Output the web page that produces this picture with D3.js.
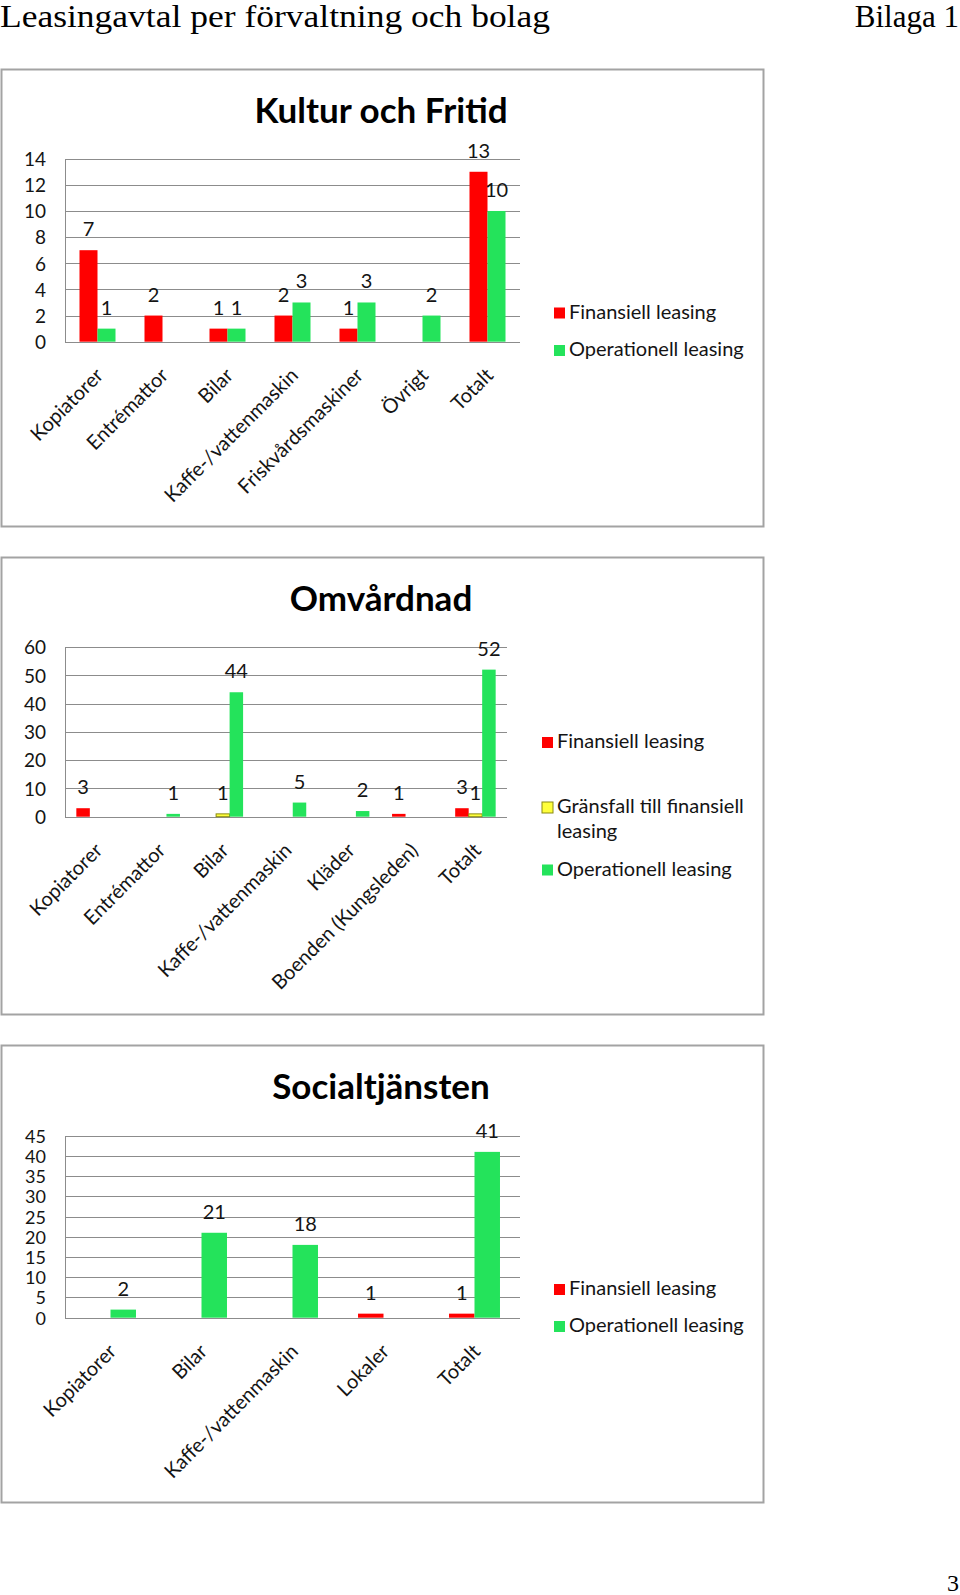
<!DOCTYPE html>
<html><head><meta charset="utf-8">
<script src="https://cdn.jsdelivr.net/npm/d3@7"></script>
<style>
html,body{margin:0;padding:0;background:#fff;}
svg{display:block;}
</style>
</head><body>
<svg id="page" width="960" height="1595"></svg>
<script>
// ---------- DATA ----------
const pageTitle = "Leasingavtal per förvaltning och bolag";
const pageAppendix = "Bilaga 1";
const pageNumber = "3";

const seriesNames2 = ["Finansiell leasing", "Operationell leasing"];
const seriesNames3 = ["Finansiell leasing", "Gränsfall till finansiell leasing", "Operationell leasing"];

const kfTitle = "Kultur och Fritid";
const kfCategories = ["Kopiatorer", "Entrémattor", "Bilar", "Kaffe-/vattenmaskin", "Friskvårdsmaskiner", "Övrigt", "Totalt"];
const kfFinansiell = [7, 2, 1, 2, 1, null, 13];
const kfOperationell = [1, null, 1, 3, 3, 2, 10];
const kfTicks = [0, 2, 4, 6, 8, 10, 12, 14];

const omTitle = "Omvårdnad";
const omCategories = ["Kopiatorer", "Entrémattor", "Bilar", "Kaffe-/vattenmaskin", "Kläder", "Boenden (Kungsleden)", "Totalt"];
const omFinansiell = [3, null, null, null, null, 1, 3];
const omGransfall = [null, null, 1, null, null, null, 1];
const omOperationell = [null, 1, 44, 5, 2, null, 52];
const omTicks = [0, 10, 20, 30, 40, 50, 60];

const stTitle = "Socialtjänsten";
const stCategories = ["Kopiatorer", "Bilar", "Kaffe-/vattenmaskin", "Lokaler", "Totalt"];
const stFinansiell = [null, null, null, 1, 1];
const stOperationell = [2, 21, 18, null, 41];
const stTicks = [0, 5, 10, 15, 20, 25, 30, 35, 40, 45];

// ---------- STYLE ----------
const RED = "#ff0000", GREEN = "#24e35b", YELLOW = "#ffff3c", YELLOW_STROKE = "#8a8a10";
const GRID = "#8c8c8c", TEXT = "#141414", FRAME = "#a3a3a3";
const SANS = "Lato, 'Open Sans', sans-serif";

const svg = d3.select("#page");

// Page header / footer
svg.append("text").attr("x", 0).attr("y", 27)
  .attr("font-family", "'Liberation Serif', serif").attr("font-size", 31).attr("fill", "#000")
  .attr("textLength", 550).attr("lengthAdjust", "spacingAndGlyphs").text(pageTitle);
svg.append("text").attr("x", 959).attr("y", 27).attr("text-anchor", "end")
  .attr("font-family", "'Liberation Serif', serif").attr("font-size", 31).attr("fill", "#000")
  .text(pageAppendix);
svg.append("text").attr("x", 959).attr("y", 1591).attr("text-anchor", "end")
  .attr("font-family", "'Liberation Serif', serif").attr("font-size", 24).attr("fill", "#000")
  .text(pageNumber);

function drawChart(cfg) {
  const g = svg.append("g").attr("transform", `translate(0,${cfg.top})`);
  // frame
  g.append("rect").attr("x", 1.5).attr("y", 0.5).attr("width", 762).attr("height", 457)
    .attr("fill", "#fff").attr("stroke", FRAME).attr("stroke-width", 2);
  // title
  g.append("text").attr("x", 381).attr("y", 54).attr("text-anchor", "middle")
    .attr("font-family", SANS).attr("font-weight", 700).attr("font-size", 35).attr("fill", "#000")
    .text(cfg.title);

  const y = d3.scaleLinear().domain([0, cfg.ticks[cfg.ticks.length - 1]]).range([cfg.zero, cfg.plotTop]);
  const x0 = d3.scaleBand().domain(cfg.categories).range([65, cfg.right])
    .paddingInner(cfg.pad).paddingOuter(cfg.pad / 2);
  const keys = cfg.series.map((s, i) => i);
  const x1 = d3.scaleBand().domain(keys).range([0, x0.bandwidth()]);

  // gridlines
  g.append("g").selectAll("line").data(cfg.ticks).join("line")
    .attr("x1", 65).attr("x2", cfg.right)
    .attr("y1", d => Math.round(y(d)) + 0.5).attr("y2", d => Math.round(y(d)) + 0.5)
    .attr("stroke", GRID).attr("stroke-width", 1);
  // y axis line
  g.append("line").attr("x1", 65.5).attr("x2", 65.5)
    .attr("y1", Math.round(y(cfg.ticks[cfg.ticks.length - 1])) + 0.5).attr("y2", Math.round(cfg.zero) + 0.5)
    .attr("stroke", GRID);
  // y axis via d3.axisLeft (labels only)
  const ya = g.append("g").attr("transform", "translate(46,0)")
    .call(d3.axisLeft(y).tickValues(cfg.ticks).tickSize(0).tickPadding(0).tickFormat(d3.format("d")));
  ya.select(".domain").remove();
  ya.selectAll("text").attr("font-family", SANS).attr("font-size", cfg.tickFont).attr("fill", TEXT).attr("dy", "0.36em");

  // bars
  const groups = g.append("g").selectAll("g").data(cfg.categories).join("g")
    .attr("transform", d => `translate(${x0(d)},0)`);
  cfg.series.forEach((s, si) => {
    groups.each(function (cat, ci) {
      const v = s.values[ci];
      if (v == null) return;
      const gg = d3.select(this);
      gg.append("rect")
        .attr("x", x1(si)).attr("width", x1.bandwidth())
        .attr("y", y(v)).attr("height", cfg.zero - y(v))
        .attr("fill", s.color)
        .attr("stroke", s.stroke || "none").attr("stroke-width", s.stroke ? 1 : 0);
      gg.append("text")
        .attr("x", x1(si) + x1.bandwidth() / 2).attr("y", y(v) - 14)
        .attr("text-anchor", "middle").attr("font-family", SANS).attr("font-size", 20).attr("fill", TEXT)
        .text(v);
    });
  });

  // category labels (rotated)
  const xa = g.append("g").attr("transform", `translate(0,${cfg.zero})`)
    .call(d3.axisBottom(x0).tickSize(0).tickPadding(0));
  xa.select(".domain").remove();
  xa.selectAll("text")
    .attr("font-family", SANS).attr("font-size", 20).attr("fill", TEXT)
    .attr("text-anchor", "end").attr("dy", 0).attr("y", 0)
    .attr("transform", "translate(7,35) rotate(-45)");

  // legend
  const lg = g.append("g");
  cfg.series.forEach((s, si) => {
    const ly = cfg.legendY[si];
    lg.append("rect").attr("x", cfg.legendX).attr("y", ly - 11).attr("width", 11).attr("height", 11)
      .attr("fill", s.color).attr("stroke", s.stroke || "none");
    const lines = s.legendLines || [s.name];
    lines.forEach((t, li) => {
      lg.append("text").attr("x", cfg.legendX + 15).attr("y", ly + li * 25)
        .attr("font-family", SANS).attr("font-size", 20).attr("fill", TEXT).text(t);
    });
  });
}

drawChart({
  top: 69, title: kfTitle, categories: kfCategories, ticks: kfTicks, tickFont: 19,
  plotTop: 89.7, zero: 272.7, right: 520, pad: 0.446,
  series: [
    { name: seriesNames2[0], values: kfFinansiell, color: RED },
    { name: seriesNames2[1], values: kfOperationell, color: GREEN }
  ],
  legendX: 554, legendY: [249.5, 287]
});

drawChart({
  top: 557, title: omTitle, categories: omCategories, ticks: omTicks, tickFont: 19,
  plotTop: 90, zero: 259.7, right: 507, pad: 0.359,
  series: [
    { name: seriesNames3[0], values: omFinansiell, color: RED },
    { name: seriesNames3[1], values: omGransfall, color: YELLOW, stroke: YELLOW_STROKE,
      legendLines: ["Gränsfall till finansiell", "leasing"] },
    { name: seriesNames3[2], values: omOperationell, color: GREEN }
  ],
  legendX: 542, legendY: [191, 256, 318.5]
});

drawChart({
  top: 1045, title: stTitle, categories: stCategories, ticks: stTicks, tickFont: 18,
  plotTop: 90.7, zero: 272.7, right: 520, pad: 0.44,
  series: [
    { name: seriesNames2[0], values: stFinansiell, color: RED },
    { name: seriesNames2[1], values: stOperationell, color: GREEN }
  ],
  legendX: 554, legendY: [250, 287]
});
</script>
</body></html>
